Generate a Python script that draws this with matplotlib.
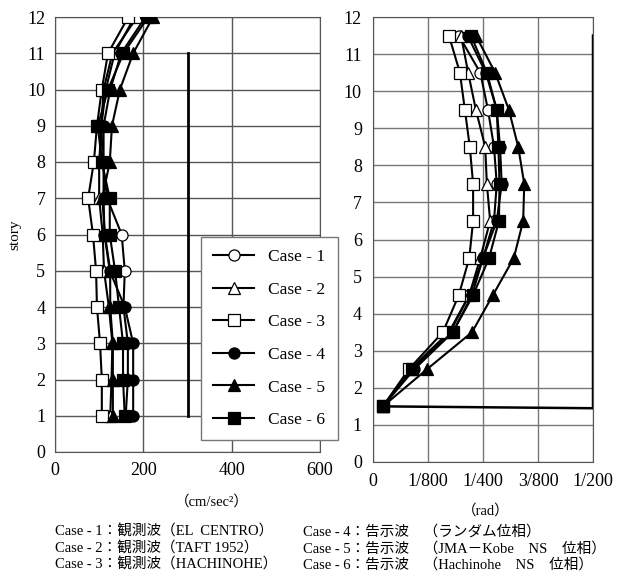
import matplotlib
matplotlib.use('Agg')
import matplotlib.pyplot as plt

plt.rcParams['font.family'] = ['Liberation Serif', 'Noto Sans CJK JP', 'DejaVu Sans']

# 層 (左: 加速度, 右: 層間変形角)
stories = [1, 2, 3, 4, 5, 6, 7, 8, 9, 10, 11, 12]
drift_stories = [1.5, 2.5, 3.5, 4.5, 5.5, 6.5, 7.5, 8.5, 9.5, 10.5, 11.5]

# 最大応答加速度 (cm/sec2)
acc_case1 = [160, 165, 165, 155, 158, 151, 118, 108, 105, 115, 135, 180]
acc_case2 = [125, 128, 130, 122, 111, 108, 100, 100, 105, 110, 130, 186]
acc_case3 = [106, 106, 102, 95, 93, 86, 75, 88, 95, 106, 120, 166]
acc_case4 = [177, 177, 177, 158, 124, 112, 110, 110, 110, 125, 150, 205]
acc_case5 = [131, 131, 131, 125, 125, 113, 107, 124, 129, 147, 177, 222]
acc_case6 = [158, 154, 154, 145, 136, 124, 124, 106, 97, 120, 155, 211]

# 最大層間変形角 (1/800 単位で読み取り)
drift_case1 = [0.18, 0.70, 1.40, 1.75, 2.00, 2.20, 2.25, 2.20, 2.09, 1.95, 1.56]
drift_case2 = [0.18, 0.68, 1.38, 1.75, 1.95, 2.13, 2.07, 2.04, 1.87, 1.73, 1.60]
drift_case3 = [0.18, 0.65, 1.27, 1.56, 1.75, 1.82, 1.82, 1.76, 1.67, 1.58, 1.38]
drift_case4 = [0.18, 0.75, 1.45, 1.80, 2.00, 2.25, 2.34, 2.31, 2.25, 2.05, 1.72]
drift_case5 = [0.18, 0.98, 1.80, 2.18, 2.56, 2.73, 2.75, 2.64, 2.47, 2.22, 1.87]
drift_case6 = [0.18, 0.71, 1.45, 1.82, 2.11, 2.29, 2.30, 2.28, 2.25, 2.07, 1.78]

labels = ['Case - 1', 'Case - 2', 'Case - 3', 'Case - 4', 'Case - 5', 'Case - 6']
markers = ['o', '^', 's', 'o', '^', 's']
faces = ['white', 'white', 'white', 'black', 'black', 'black']

acc = [acc_case1, acc_case2, acc_case3, acc_case4, acc_case5, acc_case6]
drift = [drift_case1, drift_case2, drift_case3, drift_case4, drift_case5, drift_case6]

fig = plt.figure(figsize=(6.21, 5.72), dpi=100)
ax1 = fig.add_axes([55/621, 1-452/572, 265/621, 435/572])
ax2 = fig.add_axes([373/621, 1-462/572, 220/621, 445/572])

grid_c = '#555555'

# 左: 加速度
handles = []
for i in range(6):
    h, = ax1.plot(acc[i], stories, color='black', lw=1.5, marker=markers[i],
                  ms=8, mfc=faces[i], mec='black', mew=0.9, zorder=3)
    handles.append(h)
ax1.plot([300, 300], [1, 11], color='black', lw=2, zorder=2)
ax1.set_xlim(0, 600)
ax1.set_ylim(0, 12)
ax1.set_xticks([0, 200, 400, 600])
ax1.set_yticks(range(0, 13))
ax1.grid(True, color=grid_c, lw=1)
ax1.tick_params(length=0, labelsize=13, pad=7)
ax1.set_ylabel('story', fontsize=11, labelpad=4)
for s in ax1.spines.values():
    s.set_color(grid_c)

# 右: 層間変形角
unit = 1/800
for i in range(6):
    ax2.plot([d*unit for d in drift[i]], drift_stories, color='black', lw=1.5,
             marker=markers[i], ms=8, mfc=faces[i], mec='black', mew=0.9, zorder=3)
ax2.plot([0.18*unit, 0.005, 0.005], [1.5, 1.45, 11.5], color='black', lw=1.8, zorder=2)
ax2.set_xlim(0, 0.005)
ax2.set_ylim(0, 12)
ax2.set_xticks([0, unit, 2*unit, 3*unit, 4*unit])
ax2.set_xticklabels(['0', '1/800', '1/400', '3/800', '1/200'])
ax2.set_yticks(range(0, 13))
ax2.grid(True, color='#777777', lw=1)
ax2.tick_params(length=0, labelsize=13, pad=8)
for s in ax2.spines.values():
    s.set_color(grid_c)

fig.legend(handles, labels, loc='upper left', bbox_to_anchor=(192/621, 1-228/572),
           fontsize=12.5, handlelength=2.4, labelspacing=0.95, borderpad=0.7,
           handletextpad=0.8, fancybox=False, framealpha=1, edgecolor='#777777')

fig.text(212/621, 1-502/572, '（cm/sec²）', ha='center', va='center', fontsize=10.5)
fig.text(486/621, 1-511/572, '（rad）', ha='center', va='center', fontsize=10.5)

captions_left = ['Case - 1：観測波（EL  CENTRO）',
                 'Case - 2：観測波（TAFT 1952）',
                 'Case - 3：観測波（HACHINOHE）']
captions_right = ['Case - 4：告示波　（ランダム位相）',
                  'Case - 5：告示波　（JMA－Kobe　NS　位相）',
                  'Case - 6：告示波　（Hachinohe　NS　位相）']
for k in range(3):
    y = 1 - (532 + k*16.5)/572
    fig.text(55/621, y, captions_left[k], ha='left', va='center', fontsize=10.5)
    fig.text(303/621, y, captions_right[k], ha='left', va='center', fontsize=10.5)

fig.savefig('out.png', dpi=100)
